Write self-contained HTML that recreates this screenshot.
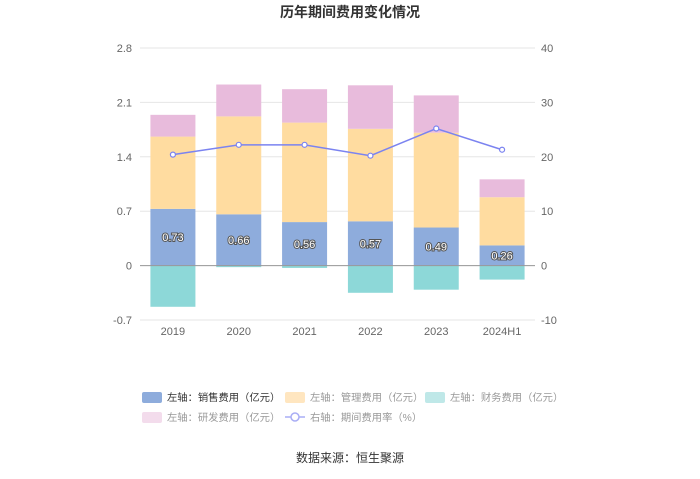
<!DOCTYPE html>
<html><head><meta charset="utf-8"><style>
body{margin:0;background:#fff;}
svg text{font-family:"Liberation Sans","Noto Sans CJK SC",sans-serif;}
</style></head><body>
<svg id="chart" width="700" height="474" xmlns="http://www.w3.org/2000/svg">
<text x="350" y="17" text-anchor="middle" font-size="14" font-weight="bold" fill="#333">历年期间费用变化情况</text>
<g id="grid"></g><g id="bars"></g><g id="line"></g><g id="axes"></g>
<g id="legend" font-size="10.3"></g>
<text x="350" y="462" text-anchor="middle" font-size="12" fill="#333">数据来源：恒生聚源</text>
</svg>
<script>
const categories=["2019","2020","2021","2022","2023","2024H1"];
const sales=[0.73,0.66,0.56,0.57,0.49,0.26];
const mgmt=[0.93,1.26,1.28,1.19,1.22,0.62];
const finance=[-0.53,-0.02,-0.03,-0.35,-0.31,-0.18];
const rd=[0.28,0.41,0.43,0.56,0.48,0.23];
const rate=[20.4,22.2,22.2,20.2,25.2,21.3];
const leftTicks=[-0.7,0,0.7,1.4,2.1,2.8];
const rightTicks=[-10,0,10,20,30,40];
const NS="http://www.w3.org/2000/svg";
const X0=140,X1=535,YT=48,YB=320;
const yL=v=>YB-(v+0.7)/3.5*(YB-YT);
const yR=v=>YB-(v+10)/50*(YB-YT);
const band=(X1-X0)/categories.length;
const xC=i=>X0+band*(i+0.5);
function mk(tag,attrs,parent,text){const e=document.createElementNS(NS,tag);for(const k in attrs)e.setAttribute(k,attrs[k]);if(text!==undefined)e.textContent=text;document.getElementById(parent).appendChild(e);return e;}
leftTicks.forEach((t,i)=>{
  const g=mk('line',{x1:X0,x2:X1,y1:yL(t),y2:yL(t),stroke:'#e6e6e6'},'grid');
  
  
  const l=mk('text',{x:X0-8,y:yL(t)+4,'text-anchor':'end','font-size':11,fill:'#666'},'axes',String(t));
  
  
});
rightTicks.forEach(t=>{
  const l=mk('text',{x:X1+6,y:yR(t)+4,'font-size':11,fill:'#666'},'axes',String(t));
  
  
});
const z=mk('line',{x1:X0,x2:X1,y1:yL(0),y2:yL(0),stroke:'#999'},'axes');


const bw=45;
categories.forEach((c,i)=>{
  const x=xC(i)-bw/2;
  const segs=[[0,sales[i],'#8eacdc','bar-sales'],[sales[i],sales[i]+mgmt[i],'#ffdca0','bar-management'],[sales[i]+mgmt[i],sales[i]+mgmt[i]+rd[i],'#e8bbdc','bar-rd']];
  segs.forEach(s=>{
    const r=mk('rect',{x:x,y:yL(s[1]),width:bw,height:yL(s[0])-yL(s[1]),fill:s[2]},'bars');
    
    
  });
  const f=mk('rect',{x:x,y:yL(0),width:bw,height:yL(finance[i])-yL(0),fill:'#8dd8d8'},'bars');
  
  
  const t=mk('text',{x:xC(i),y:(yL(0)+yL(sales[i]))/2+4,'text-anchor':'middle','font-size':11,fill:'#fff',stroke:'#555','stroke-width':2,'paint-order':'stroke'},'bars',sales[i].toFixed(2));
  
  
  const cl=mk('text',{x:xC(i),y:YB+15,'text-anchor':'middle','font-size':11,fill:'#666'},'axes',c);
  
  
});
const pl=mk('polyline',{points:rate.map((v,i)=>xC(i)+','+yR(v)).join(' '),fill:'none',stroke:'#7b83f0','stroke-width':1.5},'line');


rate.forEach((v,i)=>{
  const p=mk('circle',{cx:xC(i),cy:yR(v),r:2.5,fill:'#fff',stroke:'#7b83f0','stroke-width':1.2},'line');
  
  
});
const leg=[[142,397,'#8eacdc','左轴：销售费用（亿元）','#333'],[285,397,'#ffe6c0','左轴：管理费用（亿元）','#999'],[425,397,'#bfe8e8','左轴：财务费用（亿元）','#999'],[142,417,'#f3dcec','左轴：研发费用（亿元）','#999']];
leg.forEach(l=>{
  const r=mk('rect',{x:l[0],y:l[1]-5,width:20,height:11,rx:2,fill:l[2]},'legend');
  
  
  const t=mk('text',{x:l[0]+25,y:l[1]+4,fill:l[4]},'legend',l[3]);
  
  
});
const ll=mk('line',{x1:285,x2:305,y1:417,y2:417,stroke:'#a9adf5','stroke-width':1.5},'legend');


const lc=mk('circle',{cx:295,cy:417,r:4,fill:'#fff',stroke:'#a9adf5','stroke-width':1.5},'legend');


const lt=mk('text',{x:310,y:421,fill:'#999'},'legend','右轴：期间费用率（%）');


</script>
</body></html>
